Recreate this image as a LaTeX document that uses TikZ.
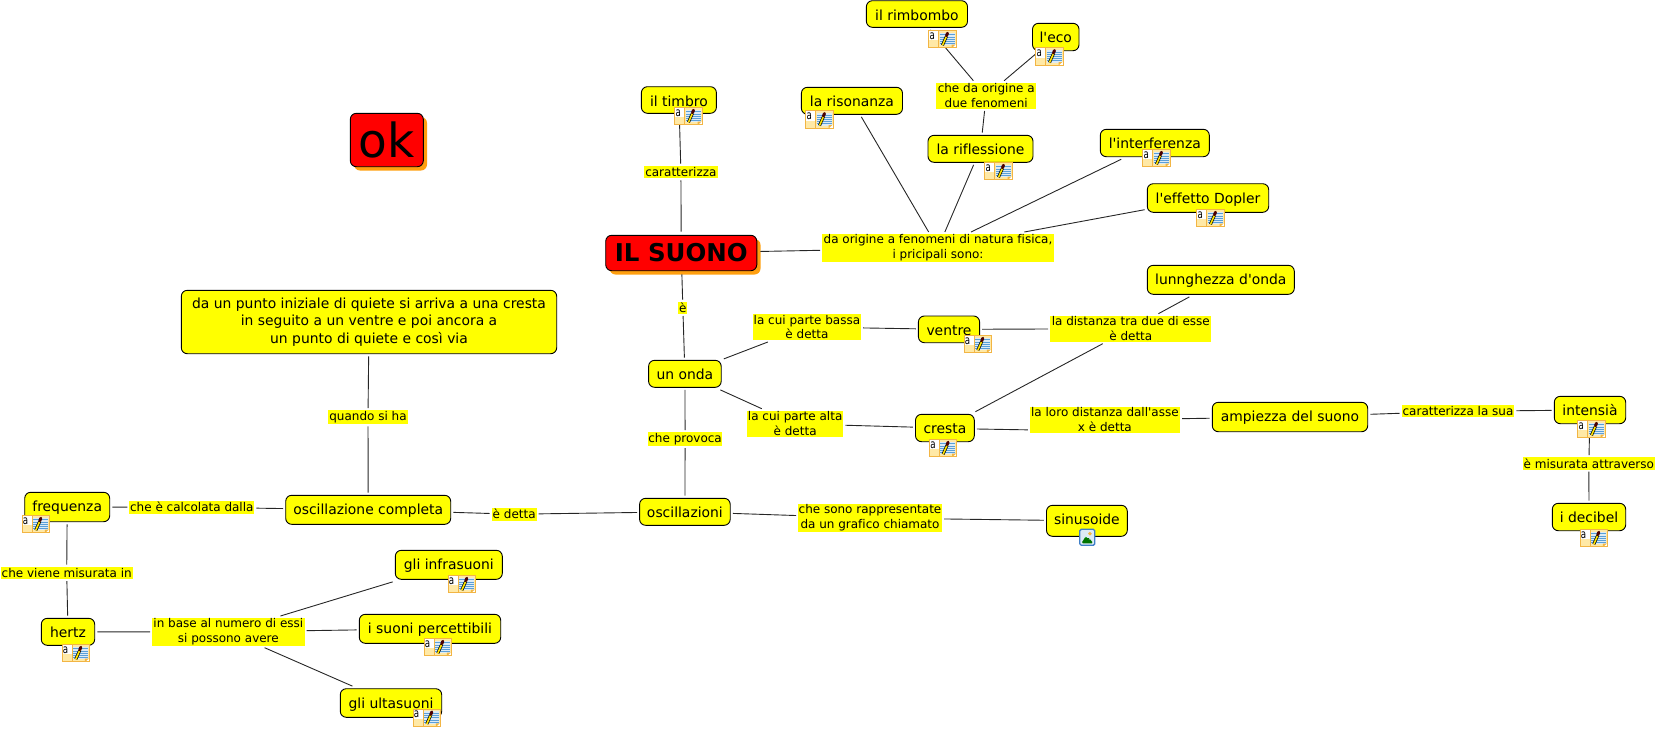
\documentclass[tikz,border=0pt]{standalone}
\usepackage{fontspec}
\setmainfont[Ligatures={TeXOff,NoCommon}]{DejaVu Sans}
\definecolor{cyel}{HTML}{FFFF00}
\definecolor{cred}{HTML}{FF0000}
\definecolor{cshadow}{HTML}{FF9F0F}
\definecolor{notebd}{HTML}{F2B544}
\definecolor{notefill}{HTML}{FFE9A6}
\definecolor{noteblue}{HTML}{5A9FD8}
\definecolor{notepale}{HTML}{DDEBF5}
\definecolor{picbd}{HTML}{3F7FC8}
\tikzset{
  x=1pt,y=-1pt,
  cbox/.style={draw=black,fill=cyel,rounded corners=6pt,line width=0.9pt,inner sep=0pt,outer sep=2.6pt,
     align=center,font=\fontsize{13.9}{17.3}\selectfont},
  redbox/.style={draw=black,fill=cred,rounded corners=6pt,line width=0.9pt,inner sep=0pt,outer sep=3.6pt,align=center},
  lab/.style={fill=cyel,inner sep=0pt,outer sep=2pt,align=center,font=\fontsize{12}{14.7}\selectfont},
  conn/.style={draw=black!85,line width=0.9pt},
  notea/.style={inner sep=0pt,xscale=.72,font=\fontsize{12}{12}\selectfont},
  noteicon/.style={rectangle,draw=notebd,line width=1pt,fill=notefill,inner sep=0pt,outer sep=0pt,
     minimum width=27.5pt,minimum height=17.5pt,
     path picture={
       \begin{scope}[shift={(path picture bounding box.center)}]
         \fill[white] (-14,-9) rectangle (-4,1);
         \draw[notebd,line width=0.5pt] (-4,-9) -- (-4,9);
         \fill[notepale] (-3,-6.5) rectangle (12,6);
         \foreach \yy in {-4.5,-2.3,-0.1,2.1,4.3} \draw[noteblue,line width=0.8pt] (-3,\yy) -- (12,\yy);
         \draw[black,line width=3pt] (0,6) -- (4,-3);
         \draw[cyel!80!orange,line width=1.6pt] (0,6) -- (4,-3);
         \draw[black!70!red,line width=3pt,line cap=round] (4,-3.5) -- (5,-6);
         \fill[white] (14,9.5) -- (8.5,9.5) -- (14,4.5) -- cycle;
         \fill[notebd] (9,9) -- (9,5.5) -- (12.8,5.5) -- cycle;
       \end{scope}}},
  picicon/.style={rectangle,rounded corners=1.5pt,draw=picbd,line width=1.3pt,fill=white,inner sep=0pt,outer sep=0pt,
     minimum width=15pt,minimum height=16pt,
     path picture={
       \begin{scope}[shift={(path picture bounding box.center)}]
         \fill[notepale] (-8,-8) rectangle (8,8);
         \fill[notebd] (2.6,-3.6) circle (1.9);
         \fill[green!45!black] (-6,6) -- (-1.5,-1) -- (1,2) -- (2,1) -- (6,6) -- cycle;
         \fill[green!70!black] (-2.5,1) -- (-1.5,-1) -- (0,1) -- cycle;
       \end{scope}}}
}
% single-line concept: the baseline lies a fixed distance below the top edge
\newcommand\cbx[7][cbox]{\pgfmathsetmacro\hh{42.6-(#6-#5)}\node[#1,text height=\hh pt,text depth=4pt,minimum width={(#4-#3)*1pt},minimum height={(#6-#5)*1pt}] (#2) at ({(#3+#4)/2},{(#5+#6)/2}) {#7};}
\newcommand\mbx[7][cbox]{\node[#1,minimum width={(#4-#3)*1pt},minimum height={(#6-#5)*1pt}] (#2) at ({(#3+#4)/2},{(#5+#6)/2}) {#7};}
\newcommand\lbx[6]{\mbx[lab]{#1}{#2}{#3}{#4}{#5}{#6}}
\newcommand\nte[3]{\node[noteicon] (#1) at ({#2+14.5},{#3+9.2}) {};\node[notea] (#1a) at ({#2+4.3},{#3+6}) {a};}
\begin{document}
\begin{tikzpicture}
\useasboundingbox (0,0) rectangle (1657,729);
% red boxes (with shadow)
\fill[cshadow,rounded corners=6pt] (354,117) rectangle (427,170.5);
\mbx[redbox,font=\fontsize{47}{47}\selectfont]{ok}{350.3}{423.3}{113.3}{166.7}{ok}
\fill[cshadow,rounded corners=6pt] (609.5,239) rectangle (760.5,274.5);
\mbx[redbox,font=\bfseries\fontsize{24.5}{24.5}\selectfont]{suono}{605.7}{756.8}{235.3}{270.7}{IL SUONO}
% concepts
\cbx{rimbombo}{866.4}{967.5}{0.7}{27.3}{il rimbombo}
\cbx{eco}{1032.5}{1079}{23.3}{50.7}{l'eco}
\cbx{timbro}{641.4}{716.4}{86.7}{113.3}{il timbro}
\cbx{risonanza}{801.4}{902.5}{87.3}{114.3}{la risonanza}
\cbx{riflessione}{928}{1033}{135.3}{162.3}{la riflessione}
\cbx{interferenza}{1100.3}{1209.3}{129.3}{156.7}{l'interferenza}
\cbx{dopler}{1147.3}{1268.7}{183.7}{212.3}{l'effetto Dopler}
\cbx{lunghezza}{1147.3}{1294.3}{265.3}{294.3}{lunnghezza d'onda}
\cbx{onda}{648.6}{721.2}{360.3}{387.3}{un onda}
\cbx{ventre}{918.4}{979.6}{316}{342.7}{ventre}
\cbx{cresta}{915.5}{974.3}{414.3}{441.7}{cresta}
\cbx{oscillazioni}{639.6}{730.2}{498.3}{525.3}{oscillazioni}
\cbx{sinusoide}{1046.5}{1127.3}{505.3}{536.3}{sinusoide}
\cbx{ampiezza}{1212.3}{1367.7}{402.3}{431.7}{ampiezza del suono}
\cbx{intensia}{1554.3}{1625.7}{396.3}{423.7}{intensià}
\cbx{decibel}{1552.3}{1625.7}{503.3}{530.7}{i decibel}
\mbx{quiete}{181.3}{556.7}{290.3}{353.7}{da un punto iniziale di quiete si arriva a una cresta\\in seguito a un ventre e poi ancora a\\un punto di quiete e così via}
\cbx{completa}{285.7}{450.7}{495.3}{524.3}{oscillazione completa}
\cbx{frequenza}{24.7}{109.7}{492.3}{521.7}{frequenza}
\cbx{hertz}{41.3}{94.7}{618.3}{645.3}{hertz}
\cbx{infrasuoni}{395.3}{502.3}{550.3}{579.3}{gli infrasuoni}
\cbx{percettibili}{359.3}{500.7}{614.3}{643.3}{i suoni percettibili}
\cbx{ultrasuoni}{340.3}{441.7}{688.7}{717.3}{gli ultasuoni}
% linking phrases
\lbx{lda}{936.4}{1036}{82.7}{109}{che da origine a\\due fenomeni}
\lbx{lorigine}{822}{1054}{234}{262}{da origine a fenomeni di natura fisica,\\i pricipali sono:}
\lbx{lcar}{644.3}{717.5}{165.7}{178.3}{caratterizza}
\lbx{le}{678.4}{687.3}{301.7}{314}{è}
\lbx{lbassa}{752.7}{861.2}{314}{340}{la cui parte bassa\\è detta}
\lbx{ldist}{1050.2}{1211.4}{315.7}{341.7}{la distanza tra due di esse\\è detta}
\lbx{lalta}{747}{843.3}{410.7}{437}{la cui parte alta\\è detta}
\lbx{lloro}{1029.8}{1180}{406.7}{433}{la loro distanza dall'asse\\x è detta}
\lbx{lprov}{647.8}{722.4}{432}{446}{che provoca}
\lbx{lsono}{798}{942}{504}{532}{che sono rappresentate\\da un grafico chiamato}
\lbx{lsua}{1401.7}{1514.3}{405.3}{417.3}{caratterizza la sua}
\lbx{lmis}{1522.7}{1655}{457}{469.7}{è misurata attraverso}
\lbx{lquando}{327.7}{408.3}{410}{424.3}{quando si ha}
\lbx{ldetta}{491.7}{536.7}{507.7}{520.7}{è detta}
\lbx{lcalc}{129.3}{254.3}{500.7}{513.7}{che è calcolata dalla}
\lbx{lviene}{0.7}{132.7}{566.7}{579}{che viene misurata in}
\lbx{lbase}{152}{304.7}{618}{645.7}{in base al numero di essi\\si possono avere}
% connectors
\foreach \aa/\bb in {timbro/lcar,lcar/suono,suono/lorigine,lorigine/risonanza,lorigine/riflessione,lorigine/interferenza,lorigine/dopler,
  riflessione/lda,lda/rimbombo,lda/eco,suono/le,le/onda,onda/lbassa,lbassa/ventre,ventre/ldist,ldist/lunghezza,ldist/cresta,
  onda/lalta,lalta/cresta,lloro/ampiezza,ampiezza/lsua,lsua/intensia,intensia/lmis,lmis/decibel,
  onda/lprov,lprov/oscillazioni,oscillazioni/lsono,lsono/sinusoide,oscillazioni/ldetta,ldetta/completa,completa/lquando,lquando/quiete,
  completa/lcalc,lcalc/frequenza,frequenza/lviene,lviene/hertz,hertz/lbase,lbase/infrasuoni,lbase/percettibili,lbase/ultrasuoni}
  \draw[conn] (\aa) -- (\bb);
\draw[conn] ([yshift=-1pt]cresta.east) -- ([yshift=-10pt]lloro.west);
% resource icons
\nte{nrimbombo}{928}{30}
\nte{neco}{1035}{47.3}
\nte{ntimbro}{674}{107}
\nte{nrisonanza}{805}{110.3}
\nte{nriflessione}{984}{162}
\nte{ninterf}{1142}{149}
\nte{ndopler}{1196}{209}
\nte{nventre}{963.3}{335}
\nte{ncresta}{928.6}{439}
\nte{nintensia}{1577}{420}
\nte{ndecibel}{1579.3}{529}
\nte{nfrequenza}{21.3}{515}
\nte{nhertz}{61.3}{644}
\nte{ninfra}{447.3}{575}
\nte{nperc}{423.3}{638}
\nte{nultra}{412.3}{708.7}
\node[picicon] (picsin) at (1087.3,537.3) {};
\end{tikzpicture}
\end{document}
